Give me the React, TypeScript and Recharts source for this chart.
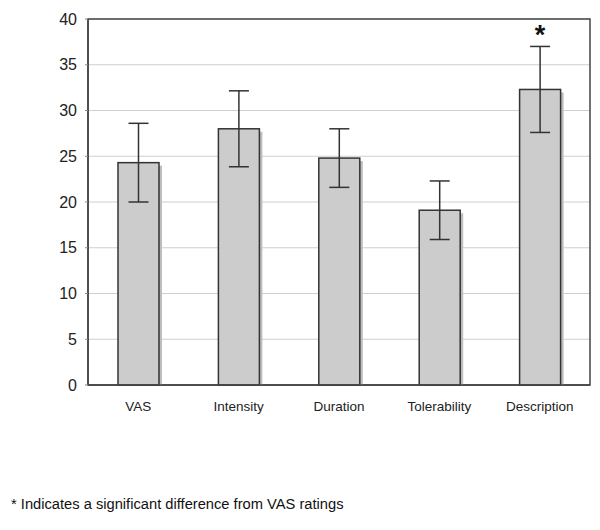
import React from "react";
import {
  BarChart,
  Bar,
  XAxis,
  YAxis,
  CartesianGrid,
  ErrorBar,
  LabelList,
  ReferenceArea,
} from "recharts";

const categories = ["VAS", "Intensity", "Duration", "Tolerability", "Description"];
const means = [24.3, 28.0, 24.8, 19.1, 32.3];
const errors = [4.3, 4.15, 3.2, 3.2, 4.7];
const marks = ["", "", "", "", "*"];
const yTicks = [0, 5, 10, 15, 20, 25, 30, 35, 40];

const data = categories.map((c, i) => ({
  name: c,
  value: means[i],
  err: errors[i],
  mark: marks[i],
}));

const FONT = "'Liberation Sans', Arial, sans-serif";

const ShadowBar = (props: any) => {
  const { x, y, width, height } = props;
  if (width == null || height == null) return null;
  return (
    <g>
      <rect x={x + 3} y={y + 3} width={width} height={Math.max(0, height - 3)} fill="#bdbdbd" />
      <rect x={x} y={y} width={width} height={height} fill="#cccccc" stroke="#333" strokeWidth={1.5} />
    </g>
  );
};

const StarLabel = (props: any) => {
  const { x, y, width, value } = props;
  if (!value) return null;
  return (
    <text
      x={x + width / 2}
      y={y - 45}
      textAnchor="middle"
      fontFamily={FONT}
      fontWeight="bold"
      fontSize={27}
      fill="#111"
    >
      {value}
    </text>
  );
};

export default function App() {
  return (
    <div style={{ position: "relative", width: 600, height: 530, margin: -8, background: "#fff" }}>
      <BarChart
        width={600}
        height={430}
        data={data}
        margin={{ top: 19, right: 10, bottom: 0, left: 0 }}
      >
        <CartesianGrid horizontal vertical={false} stroke="#cfcfcf" strokeWidth={1.2} />
        <ReferenceArea
          y1={0}
          y2={40}
          fill="none"
          fillOpacity={0}
          stroke="#444"
          strokeWidth={1.5}
          ifOverflow="visible"
        />
        <XAxis
          dataKey="name"
          axisLine={{ stroke: "#444", strokeWidth: 1.5 }}
          tickLine={false}
          tickMargin={10}
          height={45}
          tick={{ fontFamily: FONT, fontSize: 13.5, fill: "#222" }}
        />
        <YAxis
          domain={[0, 40]}
          ticks={yTicks}
          interval={0}
          width={88}
          axisLine={{ stroke: "#444", strokeWidth: 1.5 }}
          tickLine={{ stroke: "#888" }}
          tickSize={3}
          tickMargin={8}
          tick={{ fontFamily: FONT, fontSize: 16, fill: "#222" }}
        />
        <Bar dataKey="value" barSize={41} shape={<ShadowBar />} isAnimationActive={false}>
          <ErrorBar dataKey="err" width={10} stroke="#333" strokeWidth={1.5} direction="y" />
          <LabelList dataKey="mark" content={<StarLabel />} />
        </Bar>
      </BarChart>
      <div
        style={{
          position: "absolute",
          left: 11,
          top: 496,
          fontFamily: FONT,
          fontSize: 14.7,
          color: "#111",
          whiteSpace: "nowrap",
        }}
      >
        * Indicates a significant difference from VAS ratings
      </div>
    </div>
  );
}
